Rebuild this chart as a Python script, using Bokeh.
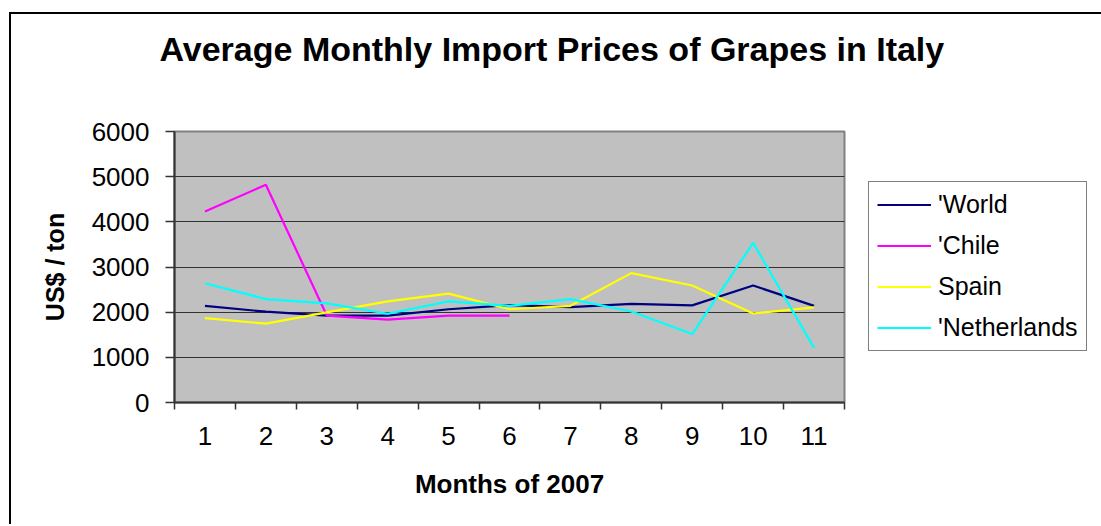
from bokeh.plotting import figure
from bokeh.embed import file_html
from bokeh.resources import INLINE
from bokeh.models import (Range1d, FixedTicker, Legend, LegendItem, Title)

months = [1, 2, 3, 4, 5, 6, 7, 8, 9, 10, 11]
world = [2140, 2010, 1925, 1925, 2065, 2155, 2110, 2185, 2150, 2590, 2140]
chile = [4230, 4820, 1925, 1835, 1925, 1925]
spain = [1870, 1745, 1995, 2240, 2410, 2065, 2140, 2865, 2590, 1970, 2105]
netherlands = [2640, 2290, 2195, 1965, 2240, 2140, 2290, 2015, 1515, 3535, 1210]
y_ticks = [0, 1000, 2000, 3000, 4000, 5000, 6000]

FONT = "Liberation Sans"

p = figure(frame_width=670, frame_height=271, output_backend="svg", toolbar_location=None,
           x_range=Range1d(0.5, 11.5), y_range=Range1d(0, 6000),
           min_border_left=163, min_border_right=250, min_border_top=110,
           min_border_bottom=122,
           title="Average Monthly Import Prices of Grapes in Italy")
p.styles = {"margin-left": "9px", "margin-top": "12px",
            "border-top": "2px solid black", "border-left": "2px solid black"}

p.background_fill_color = "#C0C0C0"
p.border_fill_color = "white"
p.outline_line_color = "#808080"
p.outline_line_width = 2

p.title.text_font = FONT
p.title.text_font_size = "34px"
p.title.text_font_style = "bold"
p.title.text_color = "black"
p.title.align = "left"
p.title.offset = -15
p.title.standoff = 26

# spacer between title and frame
p.add_layout(Title(text=" ", text_font_size="2px", standoff=47), "above")

# x axis
p.xaxis.ticker = FixedTicker(ticks=months, minor_ticks=[m - 0.5 for m in months] + [months[-1] + 0.5])
p.xaxis.major_tick_out = 0
p.xaxis.major_tick_in = 0
p.xaxis.minor_tick_out = 7
p.xaxis.minor_tick_in = 0
p.xaxis.minor_tick_line_color = "#333333"
p.xaxis.minor_tick_line_width = 1.5
p.xaxis.major_label_text_font = FONT
p.xaxis.major_label_text_font_size = "26px"
p.xaxis.major_label_text_color = "black"
p.xaxis.major_label_standoff = 17
p.xaxis.axis_line_color = "#333333"
p.xaxis.axis_line_width = 2
p.xaxis.axis_label = "Months of 2007"
p.xaxis.axis_label_text_font = FONT
p.xaxis.axis_label_text_font_size = "26px"
p.xaxis.axis_label_text_font_style = "bold"
p.xaxis.axis_label_text_color = "black"
p.xaxis.axis_label_standoff = 21

# y axis
p.yaxis.ticker = FixedTicker(ticks=y_ticks, minor_ticks=[])
p.yaxis.major_tick_out = 9
p.yaxis.major_tick_in = 0
p.yaxis.major_tick_line_color = "#333333"
p.yaxis.major_tick_line_width = 1.5
p.yaxis.major_label_text_font = FONT
p.yaxis.major_label_text_font_size = "26px"
p.yaxis.major_label_text_color = "black"
p.yaxis.major_label_standoff = 16
p.yaxis.axis_line_color = "#333333"
p.yaxis.axis_line_width = 2
p.yaxis.axis_label = "US$ / ton"
p.yaxis.axis_label_text_font = FONT
p.yaxis.axis_label_text_font_size = "25px"
p.yaxis.axis_label_text_font_style = "bold"
p.yaxis.axis_label_text_color = "black"
p.yaxis.axis_label_standoff = 20

p.xgrid.grid_line_color = None
p.ygrid.ticker = FixedTicker(ticks=y_ticks[1:-1])
p.ygrid.grid_line_color = "#333333"
p.ygrid.grid_line_width = 1.2

r_world = p.line(months, world, line_color="#000080", line_width=2.2)
r_chile = p.line(months[:len(chile)], chile, line_color="#FF00FF", line_width=2.2)
r_spain = p.line(months, spain, line_color="#FFFF00", line_width=2.2)
r_neth = p.line(months, netherlands, line_color="#00FFFF", line_width=2.2)

legend = Legend(items=[
    LegendItem(label="'World", renderers=[r_world]),
    LegendItem(label="'Chile", renderers=[r_chile]),
    LegendItem(label="Spain", renderers=[r_spain]),
    LegendItem(label="'Netherlands", renderers=[r_neth]),
], location=(24, 51))
legend.margin = 0
legend.padding = 8
legend.spacing = 12
legend.glyph_width = 54
legend.glyph_height = 29
legend.label_height = 29
legend.label_standoff = 7
legend.label_text_font = FONT
legend.label_text_font_size = "25px"
legend.label_text_color = "black"
legend.border_line_color = "black"
legend.border_line_width = 1
legend.background_fill_color = "white"
legend.background_fill_alpha = 1
p.add_layout(legend, "right")

open("out.html", "w").write(file_html(p, INLINE))
